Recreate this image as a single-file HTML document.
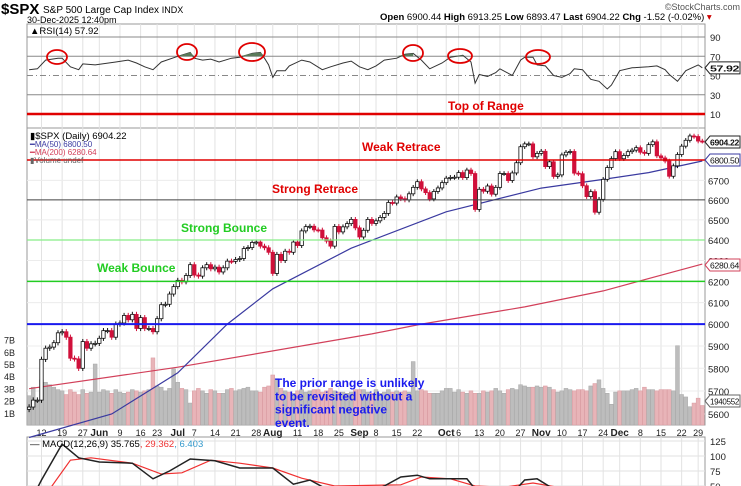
<!DOCTYPE html>
<html><head><meta charset="utf-8"><style>
body{margin:0;background:#fff;width:741px;height:486px;overflow:hidden;font-family:"Liberation Sans",sans-serif}
svg{display:block}
text{font-family:"Liberation Sans",sans-serif}
</style></head><body>
<svg id="c" width="741" height="486" viewBox="0 0 741 486">
<g>
<text x="1" y="14" font-size="15" font-weight="bold">$SPX</text>
<text x="43" y="13" font-size="10">S&amp;P 500 Large Cap Index <tspan font-size="9">INDX</tspan></text>
<text x="27" y="23" font-size="9">30-Dec-2025 12:40pm</text>
<text x="740" y="10" font-size="9" fill="#555" text-anchor="end">©StockCharts.com</text>
<text x="380" y="20" font-size="9.5"><tspan font-weight="bold">Open</tspan> 6900.44 <tspan font-weight="bold">High</tspan> 6913.25 <tspan font-weight="bold">Low</tspan> 6893.47 <tspan font-weight="bold">Last</tspan> 6904.22 <tspan font-weight="bold">Chg</tspan> -1.52 (-0.02%) <tspan fill="#c00">▾</tspan></text>
</g>
<g id="grid"></g>
<g id="marks"></g>
<g id="overlay"></g>
</svg>
<script>
const closes=[5630,5660,5660,
5840,5890,5895,5915,5960,
5965,5940,5845,5842,5800,
5920,5890,5910,5912,
5935,5970,5970,5940,6000,
6005,6040,6020,6045,5980,
6030,5980,5980,5965,
6025,6090,6092,6140,6175,
6205,6198,6228,6280,
6230,6225,6265,6280,6260,
6268,6245,6265,6297,6296,
6305,6310,6358,6363,6388,
6390,6370,6362,6340,6238,
6330,6300,6345,6340,6390,
6373,6445,6466,6468,6450,
6449,6411,6395,6370,6467,
6440,6465,6481,6502,6460,
6415,6448,6502,6482,
6495,6512,6532,6587,6584,
6615,6606,6600,6631,6664,
6693,6656,6637,6605,6643,
6661,6688,6711,6715,6716,
6740,6714,6753,6735,6552,
6654,6644,6671,6629,6664,
6735,6735,6699,6738,6791,
6875,6890,6890,6822,6840,
6851,6771,6796,6720,6728,
6832,6846,6850,6737,6734,
6672,6617,6642,6538,6603,
6705,6766,6813,6849,
6812,6829,6849,6857,6870,
6846,6840,6886,6901,6827,
6816,6800,6721,6775,6834,
6878,6909,6932,6929,
6905,6904];
const volumes=[2.4,3.1,2.0,
3.7,3.5,3.3,3.1,2.9,
2.8,2.5,2.9,2.7,2.5,
2.9,2.6,2.7,5.0,
2.7,2.9,2.8,2.6,2.9,
2.7,2.6,2.7,2.9,2.8,
2.7,2.8,2.9,5.5,
3.2,3.1,2.8,3.0,4.6,
3.5,3.0,2.9,1.8,
2.8,3.0,2.8,2.6,2.9,
2.8,2.6,2.6,2.9,3.0,
2.8,2.9,3.0,3.1,2.8,
2.8,2.7,3.1,3.2,4.1,
3.8,3.0,2.8,2.7,2.6,
2.8,2.9,2.7,2.8,2.9,
2.9,2.7,2.8,3.0,2.8,
2.7,2.7,2.6,2.7,2.9,
2.9,2.9,2.7,2.6,
2.9,2.6,2.7,2.9,2.7,
2.8,2.7,2.8,2.7,5.2,
2.8,2.9,2.8,2.6,2.6,
2.6,2.8,3.0,3.0,2.7,
2.9,2.7,2.6,2.8,2.6,
2.6,2.8,2.7,2.8,3.0,
2.8,2.6,2.9,3.0,2.9,
3.3,3.2,3.1,3.1,3.2,
3.1,3.2,3.1,2.9,2.7,
2.8,3.0,2.9,2.8,2.9,
2.9,2.8,3.2,3.4,3.7,
3.0,2.6,1.7,2.7,
2.8,2.8,2.8,2.9,3.0,
2.8,3.1,2.9,2.9,2.8,
2.9,2.9,2.9,2.8,6.5,
2.5,2.3,1.5,1.8,
2.2,1.6];
const tickLabels=["12","19","27","Jun","9","16","23","Jul","7","14","21","28","Aug","11","18","25","Sep","8","15","22","Oct","6","13","20","27","Nov","10","17","24","Dec","8","15","22","29"];
const tickIdx=[3,8,13,17,22,27,31,36,40,45,50,55,59,65,70,75,80,84,89,94,101,104,109,114,119,124,129,134,139,143,148,153,158,162];
const ma50Idx=[0,20,36,48,59,78,101,124,139,150,163];
const ma50Val=[5500,5600,5780,6000,6165,6360,6540,6660,6705,6740,6800];
const ma200Idx=[0,36,83,95,120,139,163];
const ma200Val=[5710,5805,5955,6000,6080,6155,6283];
const rsiIdx=[0,2,4,7,8,10,12,13,16,21,24,26,28,30,32,36,39,40,42,44,46,49,51,54,56,57,58,59,60,62,63,66,68,71,73,76,78,80,82,84,86,89,91,93,95,97,100,102,105,107,108,109,111,113,114,117,119,120,122,123,125,127,129,131,132,134,136,138,140,141,143,146,150,152,154,155,157,159,162,163];
const rsiVal=[56,57,66,68,68,59,56,62,61,64,66,63,59,56,64,70,74,68,66,67,64,68,69,73,74,68,61,48,55,55,60,66,64,56,59,63,65,59,56,60,66,68,72,73,66,57,63,69,71,64,42,51,49,53,57,50,66,69,69,61,60,50,48,52,57,56,46,44,36,40,55,58,59,60,56,51,44,55,61,58];
const macdIdx=[0,3,8,12,17,25,30,34,39,45,51,59,64,68,72,82,86,90,94,97,106,108,118,120,123,127,135];
const macdVal=[20,60,120,97,90,88,62,75,95,92,80,80,53,60,45,40,50,65,68,62,62,45,45,60,62,45,10];
const sigIdx=[5,10,15,25,32,37,44,51,59,66,74,90,95,102,108,115,122,128,135];
const sigVal=[45,93,97,88,70,72,93,88,80,63,50,52,65,62,50,48,55,48,30];
const NS="http://www.w3.org/2000/svg";
const L=27,R=705;
const xOf=i=>27.6+4.13*i+1.5;
const yP=p=>142+1303*Math.log(6900/p);
const yR=v=>114-(v-10)*0.9625;
const yV=v=>425-v*12.2;
const yM=v=>441-(v-125)*0.6;
function el(tag,a,parent,txt){const e=document.createElementNS(NS,tag);for(const k in a)e.setAttribute(k,a[k]);if(txt!==undefined)e.textContent=txt;parent.appendChild(e);return e;}
const G=document.getElementById('grid'),M=document.getElementById('marks'),O=document.getElementById('overlay');
const defs=el('defs',{},G);
const cp=el('clipPath',{id:'cpM'},defs);el('rect',{x:L,y:437,width:R-L,height:49},cp);
const cpr=el('clipPath',{id:'cpR'},defs);el('rect',{x:L,y:24,width:R-L,height:104},cpr);
[[24,128],[128,425],[437,486]].forEach(([a,b],k)=>{
 const r=el('rect',{x:L,y:a,width:R-L,height:b-a,fill:'none',stroke:'#999','stroke-width':1},G);
 
 
});
tickIdx.forEach((ix,k)=>{
 const x=xOf(ix);
 [[24,128],[128,425],[437,486]].forEach(([a,b])=>el('line',{x1:x,x2:x,y1:a,y2:b,stroke:'#e2e2e2'},G));
 const bold=isNaN(+tickLabels[k]);
 const t=el('text',{x:x,y:436,'font-size':bold?10:9,'font-weight':bold?'bold':'normal','text-anchor':'middle',fill:'#222'},G,tickLabels[k]);
 
 
});
[90,70,50,30,10].forEach(v=>{
 const y=yR(v);
 el('line',{x1:L,x2:R,y1:y,y2:y,stroke:v==10?'#e2e2e2':'#888','stroke-dasharray':v==50?'6,3,1,3':'none'},G);
 const t=el('text',{x:710,y:y+4,'font-size':9.5,fill:'#222'},G,v);
 
 
});
el('text',{x:30,y:34,'font-size':9.5,'font-family':'Liberation Mono'},G,'▲RSI(14) 57.92');
[6700,6600,6500,6400,6300,6200,6100,6000,5900,5800,5700,5600].forEach(p=>{
 const y=yP(p);
 el('line',{x1:L,x2:R,y1:y,y2:y,stroke:'#ececec'},G);
 const t=el('text',{x:708,y:y+4,'font-size':9.5,fill:'#222'},G,p);
 
 
});
['1B','2B','3B','4B','5B','6B','7B'].forEach((s,k)=>{
 const t=el('text',{x:4,y:yV(k+1)+4,'font-size':9,fill:'#222'},G,s);
 
 
});
[125,100,75,50].forEach(v=>{
 const y=yM(v);
 el('line',{x1:L,x2:R,y1:y,y2:y,stroke:'#e2e2e2'},G);
 const t=el('text',{x:710,y:y+4,'font-size':9.5,fill:'#222'},G,v);
 
 
});
volumes.forEach((v,i)=>{
 const down=i>0&&closes[i]<closes[i-1];
 const b=el('rect',{x:xOf(i)-2,y:yV(v),width:3.9,height:425-yV(v),fill:down?'#e8b4b8':'#bdbdbd',stroke:down?'#d99aa0':'#a8a8a8','stroke-width':0.5},M);
 
 
});
function poly(idx,val,fy,attrs,name,parent){
 const pts=idx.map((ix,k)=>xOf(ix).toFixed(1)+','+fy(val[k]).toFixed(1)).join(' ');
 const p=el('polyline',Object.assign({points:pts,fill:'none'},attrs),parent||M);
 
 
 return p;
}
poly(rsiIdx,rsiVal,yR,{stroke:'#333','stroke-width':1,'clip-path':'url(#cpR)'},'rsi-line');
(function(){
 let seg=[];
 const flush=()=>{if(seg.length>1){const pts=seg.map(p=>p.join(',')).join(' ');el('polygon',{points:seg[0][0]+','+yR(70)+' '+pts+' '+seg[seg.length-1][0]+','+yR(70),fill:'#5a7a5a'},M);}seg=[];};
 rsiIdx.forEach((ix,k)=>{if(rsiVal[k]>=68)seg.push([xOf(ix),Math.min(yR(rsiVal[k]),yR(70))]);else flush();});flush();
})();
poly(ma200Idx,ma200Val,yP,{stroke:'#d2405a','stroke-width':1.2},'ma200-line');
poly(ma50Idx,ma50Val,yP,{stroke:'#3a3aa0','stroke-width':1.2},'ma50-line');
closes.forEach((c,i)=>{
 const o=i>0?closes[i-1]:c-10;
 const up=c>=o;
 const x=xOf(i);
 const hi=Math.max(o,c)+12,lo=Math.min(o,c)-12;
 const col=up?'#111':'#d0103a';
 el('line',{x1:x,x2:x,y1:yP(hi),y2:yP(lo),stroke:col,'stroke-width':1},M);
 const top=yP(Math.max(o,c)),h=Math.max(1,yP(Math.min(o,c))-top);
 const r=el('rect',{x:x-1.7,y:top,width:3.4,height:h,fill:up?'#fff':'#d0103a',stroke:col,'stroke-width':0.8},M);
 
 
});
poly(sigIdx,sigVal,yM,{stroke:'#f03030','stroke-width':1.2,'clip-path':'url(#cpM)'},'macd-signal-line');
poly(macdIdx,macdVal,yM,{stroke:'#222','stroke-width':1.5,'clip-path':'url(#cpM)'},'macd-line');
el('text',{x:30,y:447,'font-size':9.5,'font-family':'Liberation Mono'},O).innerHTML='<tspan>— MACD(12,26,9) 35.765</tspan><tspan fill="#e33">, 29.362</tspan><tspan fill="#39c">, 6.403</tspan>';
[[114,'#e00000',2.5,'top-of-range-line'],[160,'#e00000',1.5,'weak-retrace-line'],[yP(6600),'#444',1,'strong-retrace-line'],[yP(6400),'#88ee88',1.2,'strong-bounce-line'],[yP(6200),'#22cc22',1.5,'weak-bounce-line'],[yP(6000),'#1a1aee',2,'prior-range-line']].forEach(([y,c,w,n])=>{
 const l=el('line',{x1:L,x2:R,y1:y,y2:y,stroke:c,'stroke-width':w},O);
 
 
});
[[57,57,10,7],[187,52,10,8],[252,52,13,9],[413,53,10,8],[460,56,12,7],[538,57,12,7]].forEach(([cx,cy,rx,ry])=>{
 const e=el('ellipse',{cx,cy,rx,ry,fill:'none',stroke:'#e00000','stroke-width':1.8},O);
 
 
});
function lab(x,y,t,c,n){const e=el('text',{x,y,'font-size':12,'font-weight':'bold',fill:c},O,t);}
lab(448,110,'Top of Range','#e00000','top-of-range-label');
lab(362,151,'Weak Retrace','#e00000','weak-retrace-label');
lab(272,193,'Strong Retrace','#e00000','strong-retrace-label');
lab(181,232,'Strong Bounce','#22cc22','strong-bounce-label');
lab(97,272,'Weak Bounce','#22cc22','weak-bounce-label');
['The prior range is unlikely','to be revisited without a','significant negative','event.'].forEach((t,k)=>lab(275,387+k*13.3,t,'#1a1aee','prior-range-note'));
el('text',{x:30,y:139,'font-size':9.5,'font-family':'Liberation Mono'},O,'▮$SPX (Daily) 6904.22');
el('text',{x:30,y:147,'font-size':8,fill:'#3a3aa0'},O,'━MA(50) 6800.50');
el('text',{x:30,y:155,'font-size':8,fill:'#d2405a'},O,'━MA(200) 6280.64');
el('text',{x:30,y:163,'font-size':8,fill:'#666'},O,'▮Volume undef');
function tag(y,t,c,n){const g=el('g',{},O);
 el('polygon',{points:`705,${y} 710,${y-6} 740,${y-6} 740,${y+6} 710,${y+6}`,fill:'#fff',stroke:c},g);
 el('text',{x:710,y:y+3.5,'font-size':8.5,'letter-spacing':'-0.3','textLength':29,'lengthAdjust':'spacingAndGlyphs','font-weight':c=='#222'?'bold':'normal',fill:'#111'},g,t);}
tag(yR(57.92),'57.92','#222','rsi-value-tag');
tag(142,'6904.22','#222','price-value-tag');
tag(160,'6800.50','#3a3aa0','ma50-value-tag');
tag(265,'6280.64','#d2405a','ma200-value-tag');
tag(401,'1940552','#666','volume-value-tag');
</script>
</body></html>
